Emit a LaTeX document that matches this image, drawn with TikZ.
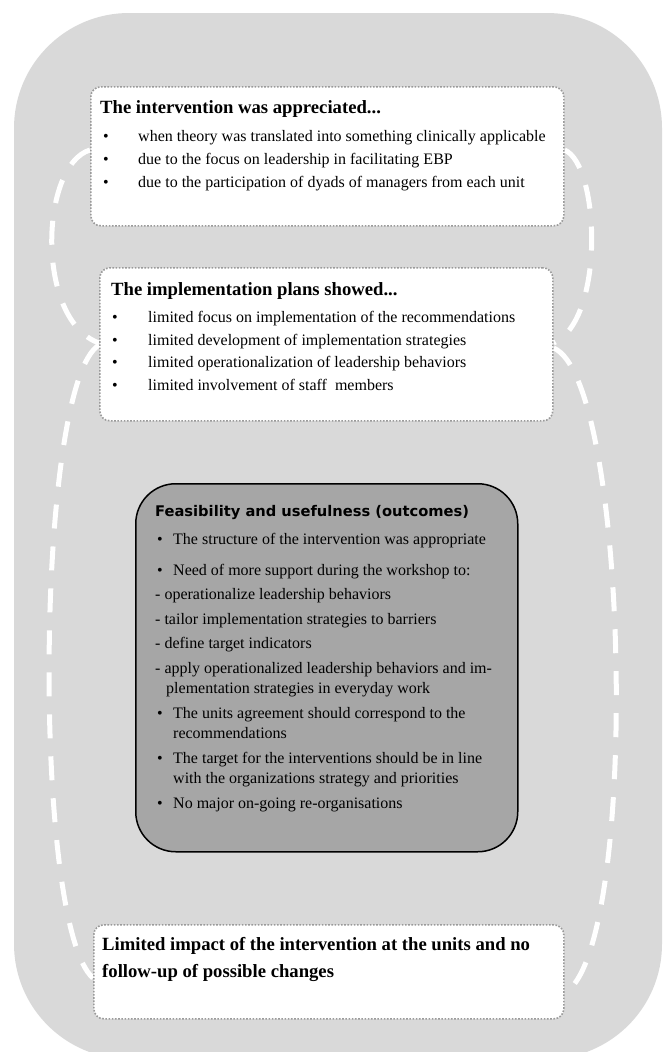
\documentclass[tikz,border=0pt]{standalone}
\usepackage{fontspec}
\setmainfont{Liberation Serif}
\newfontfamily\verd{DejaVu Sans}
\pgfdeclarelayer{back}
\pgfdeclarelayer{mid}
\pgfsetlayers{back,mid,main}
\definecolor{bggray}{HTML}{D9D9D9}
\definecolor{darkbox}{HTML}{A6A6A6}
\definecolor{dotgray}{HTML}{9A9A9A}
\tikzset{
  wbox/.style={draw=dotgray, fill=white, line width=1.6pt, dash pattern=on 1.6pt off 1.6pt,
    rounded corners=10pt, anchor=north west, inner sep=0pt},
  gbox/.style={draw=black, fill=darkbox, line width=1.5pt, rounded corners=40pt,
    anchor=north west, inner sep=0pt},
  flow/.style={draw=white, line width=5pt, dash pattern=on 24pt off 18pt},
  ln/.style={anchor=base west, inner sep=0pt, font=\fontsize{16}{19}\selectfont},
  ttl/.style={anchor=base west, inner sep=0pt, font=\fontsize{18.67}{22}\selectfont\bfseries},
  vttl/.style={anchor=base west, inner sep=0pt, font=\fontsize{14.67}{17}\selectfont\verd\bfseries},
}
\begin{document}
\begin{tikzpicture}[x=1pt,y=-1pt]
\useasboundingbox (0,0) rectangle (663,1052);
\begin{pgfonlayer}{back}
\fill[bggray, rounded corners=115pt] (14,13) rectangle (662,1059);
\end{pgfonlayer}

% boxes
\node[wbox, minimum width=473pt, minimum height=139pt] (b1) at (90,86) {};
\node[wbox, minimum width=453pt, minimum height=153pt] (b2) at (99,267) {};
\node[gbox, minimum width=382pt, minimum height=368pt] (b3) at (135,483) {};
\node[wbox, minimum width=470pt, minimum height=94pt] (b4) at (93,924) {};

% box 1 text
\node[ttl] (t1) at (100,113) {The intervention was appreciated...};
\node[ln] (t1b1) at (103,141.5) {•};
\node[ln] (t1l1) at (138,141.5) {when theory was translated into something clinically applicable};
\node[ln] (t1b2) at (103,164) {•};
\node[ln] (t1l2) at (138,164) {due to the focus on leadership in facilitating EBP};
\node[ln] (t1b3) at (103,187) {•};
\node[ln] (t1l3) at (138,187) {due to the participation of dyads of managers from each unit};

% box 2 text
\node[ttl] (t2) at (111,295) {The implementation plans showed...};
\node[ln] (t2b1) at (112,322.5) {•};
\node[ln] (t2l1) at (148,322.5) {limited focus on implementation of the recommendations};
\node[ln] (t2b2) at (112,345) {•};
\node[ln] (t2l2) at (148,345) {limited development of implementation strategies};
\node[ln] (t2b3) at (112,367.5) {•};
\node[ln] (t2l3) at (148,367.5) {limited operationalization of leadership behaviors};
\node[ln] (t2b4) at (112,390) {•};
\node[ln] (t2l4) at (148,390) {limited involvement of staff\ \ members};

% box 3 text
\node[vttl] (t3) at (155,516) {Feasibility and usefulness (outcomes)};
\node[ln] (t3b1) at (157,544) {•};
\node[ln] (t3l1) at (173,544) {The structure of the intervention was appropriate};
\node[ln] (t3b2) at (157,575) {•};
\node[ln] (t3l2) at (173,575) {Need of more support during the workshop to:};
\node[ln] (t3l3) at (155,599) {- operationalize leadership behaviors};
\node[ln] (t3l4) at (155,624) {- tailor implementation strategies to barriers};
\node[ln] (t3l5) at (155,648) {- define target indicators};
\node[ln] (t3l6) at (155,673) {- apply operationalized leadership behaviors and im-};
\node[ln] (t3l7) at (166,693) {plementation strategies in everyday work};
\node[ln] (t3b3) at (157,718) {•};
\node[ln] (t3l8) at (173,718) {The units agreement should correspond to the};
\node[ln] (t3l9) at (173,738) {recommendations};
\node[ln] (t3b4) at (157,763) {•};
\node[ln] (t3l10) at (173,763) {The target for the interventions should be in line};
\node[ln] (t3l11) at (173,783) {with the organizations strategy and priorities};
\node[ln] (t3b5) at (157,808) {•};
\node[ln] (t3l12) at (173,808) {No major on-going re-organisations};

% box 4 text
\node[ttl] (t4a) at (102,950) {Limited impact of the intervention at the units and no};
\node[ttl] (t4b) at (102,977) {follow-up of possible changes};

% connectors
\begin{pgfonlayer}{mid}
\draw[flow] ([yshift=-64pt]b1.north west) .. controls (40,165) and (35,320) .. ([yshift=-76pt]b2.north west);
\draw[flow] ([yshift=-64pt]b1.north east) .. controls (600,165) and (605,320) .. ([yshift=-76pt]b2.north east);
\draw[flow] ([yshift=-78pt]b2.north west) .. controls (35,385) and (32,925) .. ([yshift=-54pt]b4.north west);
\draw[flow] ([yshift=-81pt]b2.north east) .. controls (630,380) and (640,950) .. ([yshift=-69pt]b4.north east);
\end{pgfonlayer}
\end{tikzpicture}
\end{document}
